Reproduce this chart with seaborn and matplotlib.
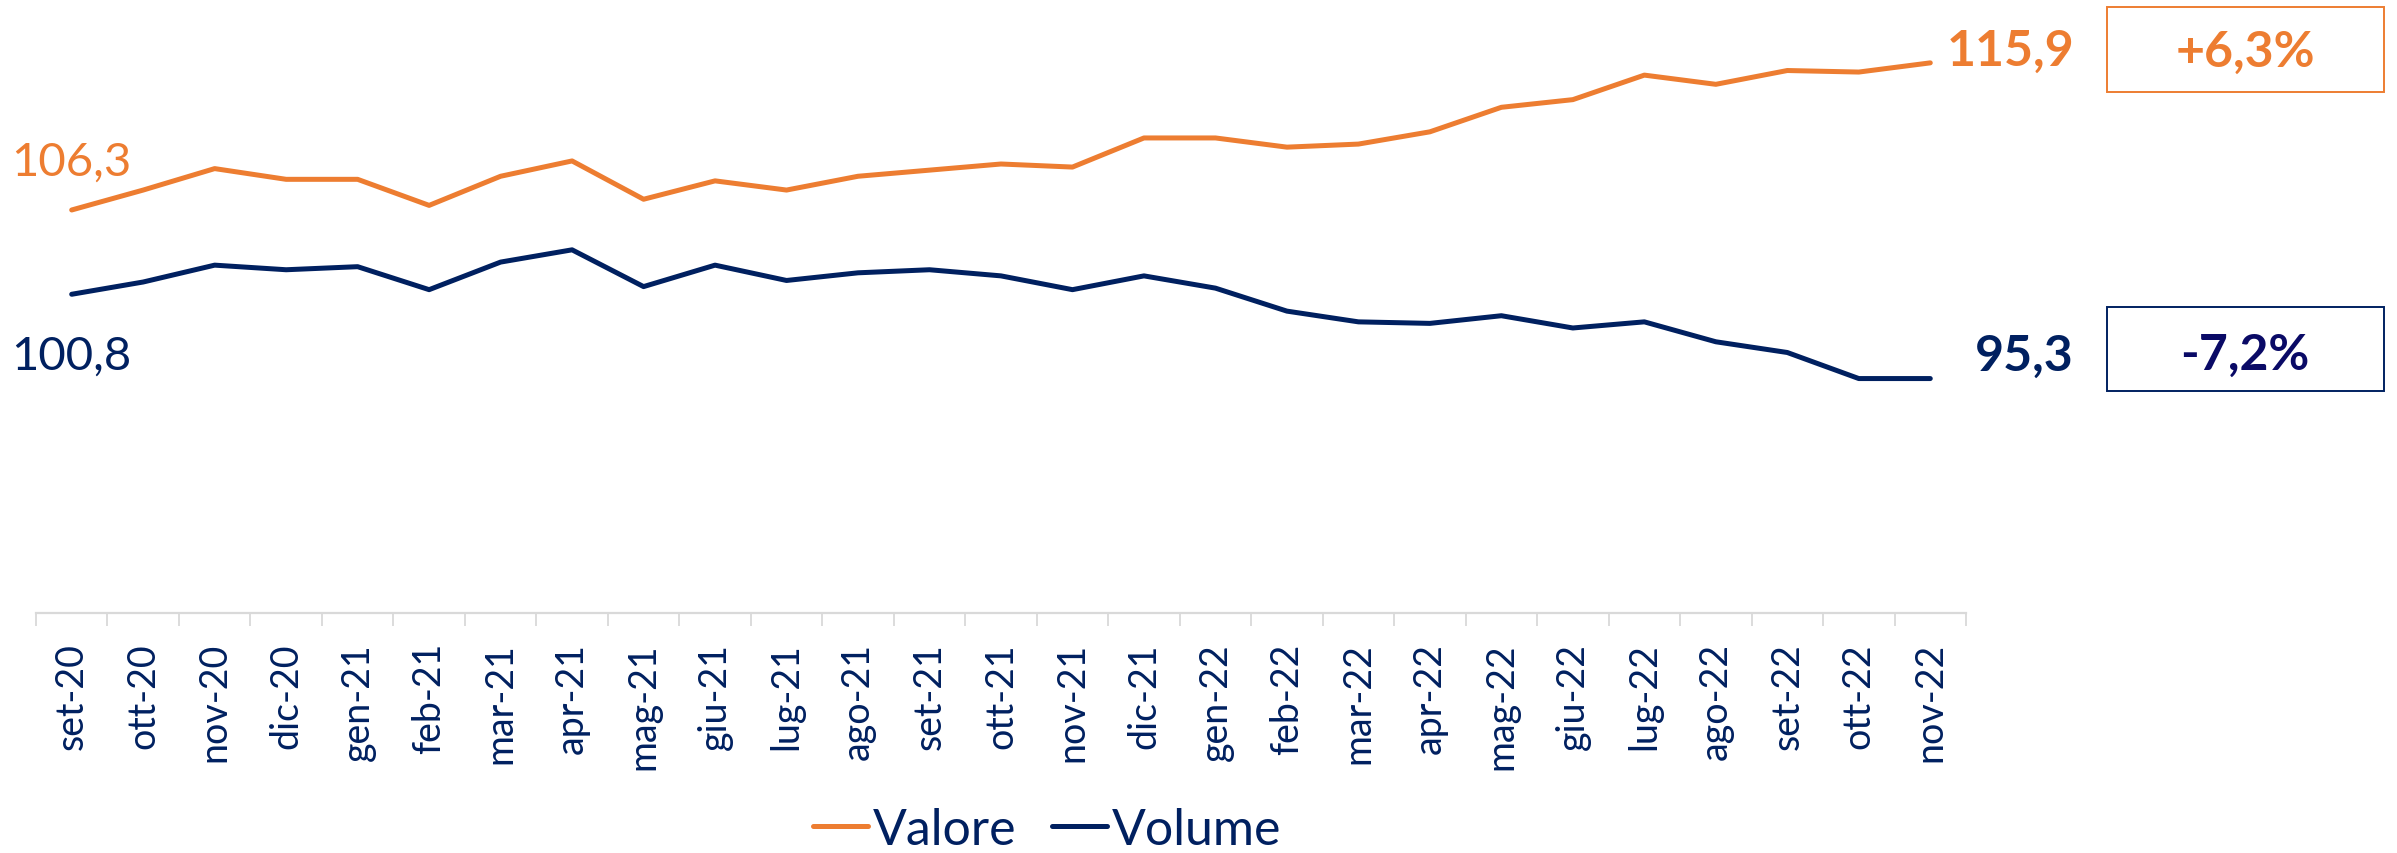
import pandas as pd
import matplotlib.pyplot as plt
import seaborn as sns
from matplotlib.patches import Rectangle

# Monthly index values
mesi = ['set-20', 'ott-20', 'nov-20', 'dic-20', 'gen-21', 'feb-21', 'mar-21', 'apr-21', 'mag-21',
        'giu-21', 'lug-21', 'ago-21', 'set-21', 'ott-21', 'nov-21', 'dic-21', 'gen-22', 'feb-22',
        'mar-22', 'apr-22', 'mag-22', 'giu-22', 'lug-22', 'ago-22', 'set-22', 'ott-22', 'nov-22']
valore = [106.3, 107.6, 109.0, 108.3, 108.3, 106.6, 108.5, 109.5, 107.0, 108.2, 107.6, 108.5, 108.9,
          109.3, 109.1, 111.0, 111.0, 110.4, 110.6, 111.4, 113.0, 113.5, 115.1, 114.5, 115.4, 115.3, 115.9]
volume = [100.8, 101.6, 102.7, 102.4, 102.6, 101.1, 102.9, 103.7, 101.3, 102.7, 101.7, 102.2, 102.4,
          102.0, 101.1, 102.0, 101.2, 99.7, 99.0, 98.9, 99.4, 98.6, 99.0, 97.7, 97.0, 95.3, 95.3]
variazioni = ['+6,3%', '-7,2%']

ORANGE = '#ED7D31'
NAVY = '#002060'

df = pd.DataFrame({
    'mese': mesi * 2,
    'indice': valore + volume,
    'serie': ['Valore'] * len(mesi) + ['Volume'] * len(mesi),
})

sns.set_style('white')
plt.rcParams['font.family'] = ['Lato', 'DejaVu Sans']

fig = plt.figure(figsize=(23.97, 8.54), dpi=100)
ax = fig.add_axes([0.0150, 0.2810, 0.8052, 0.7178])

sns.lineplot(data=df, x='mese', y='indice', hue='serie', palette=[ORANGE, NAVY],
             linewidth=3.6, ax=ax, sort=False)
for ln in ax.get_lines():
    ln.set_solid_capstyle('round')

ax.set_ylim(80, 120)
ax.set_xlim(-0.5, len(mesi) - 0.5)
ax.set_xlabel('')
ax.set_ylabel('')
ax.set_yticks([])

for side in ['top', 'right', 'left']:
    ax.spines[side].set_visible(False)
ax.spines['bottom'].set_color('#D9D9D9')
ax.spines['bottom'].set_linewidth(1.6)

# category labels, tick marks between categories
ax.set_xticks(range(len(mesi)))
ax.set_xticklabels(mesi, rotation=90, fontsize=27, color=NAVY, va='top')
ax.set_xticks([i - 0.5 for i in range(len(mesi) + 1)], minor=True)
ax.tick_params(axis='x', which='major', length=0, pad=21)
ax.tick_params(axis='x', which='minor', length=9, width=1.3, color='#D9D9D9', bottom=True)

# start / end value labels
def fmt(v):
    return f'{v:.1f}'.replace('.', ',')

ax.annotate(fmt(valore[0]), (0, valore[0]), xytext=(0, 35), textcoords='offset points',
            ha='center', va='center', fontsize=34, color=ORANGE)
ax.annotate(fmt(volume[0]), (0, volume[0]), xytext=(0, -44), textcoords='offset points',
            ha='center', va='center', fontsize=34, color=NAVY)
last = len(mesi) - 1
ax.annotate(fmt(valore[-1]), (last, valore[-1]), xytext=(104, 9), textcoords='offset points',
            ha='right', va='center', fontsize=36, fontweight='bold', color=ORANGE)
ax.annotate(fmt(volume[-1]), (last, volume[-1]), xytext=(103, 17), textcoords='offset points',
            ha='right', va='center', fontsize=36, fontweight='bold', color=NAVY)

# boxed percentage changes
fig.add_artist(Rectangle((0.879, 0.8911), 0.1156, 0.0995, transform=fig.transFigure,
                         fill=False, edgecolor=ORANGE, linewidth=1.4))
fig.add_artist(Rectangle((0.879, 0.5410), 0.1156, 0.0984, transform=fig.transFigure,
                         fill=False, edgecolor=NAVY, linewidth=1.4))
fig.text(0.9366, 0.939, variazioni[0], ha='center', va='center', fontsize=36,
         fontweight='bold', color=ORANGE)
fig.text(0.9366, 0.584, variazioni[1], ha='center', va='center', fontsize=36,
         fontweight='bold', color='#0A0A66')

# legend at the bottom
handles, labels = ax.get_legend_handles_labels()
ax.legend(handles, labels, loc='center', bbox_to_anchor=(0.4368, 0.027),
          bbox_transform=fig.transFigure, ncol=2, frameon=False, fontsize=36,
          labelcolor=NAVY, handlelength=1.1, handletextpad=0.1, columnspacing=0.7,
          borderaxespad=0, borderpad=0)

plt.savefig('out.png', dpi=100)
